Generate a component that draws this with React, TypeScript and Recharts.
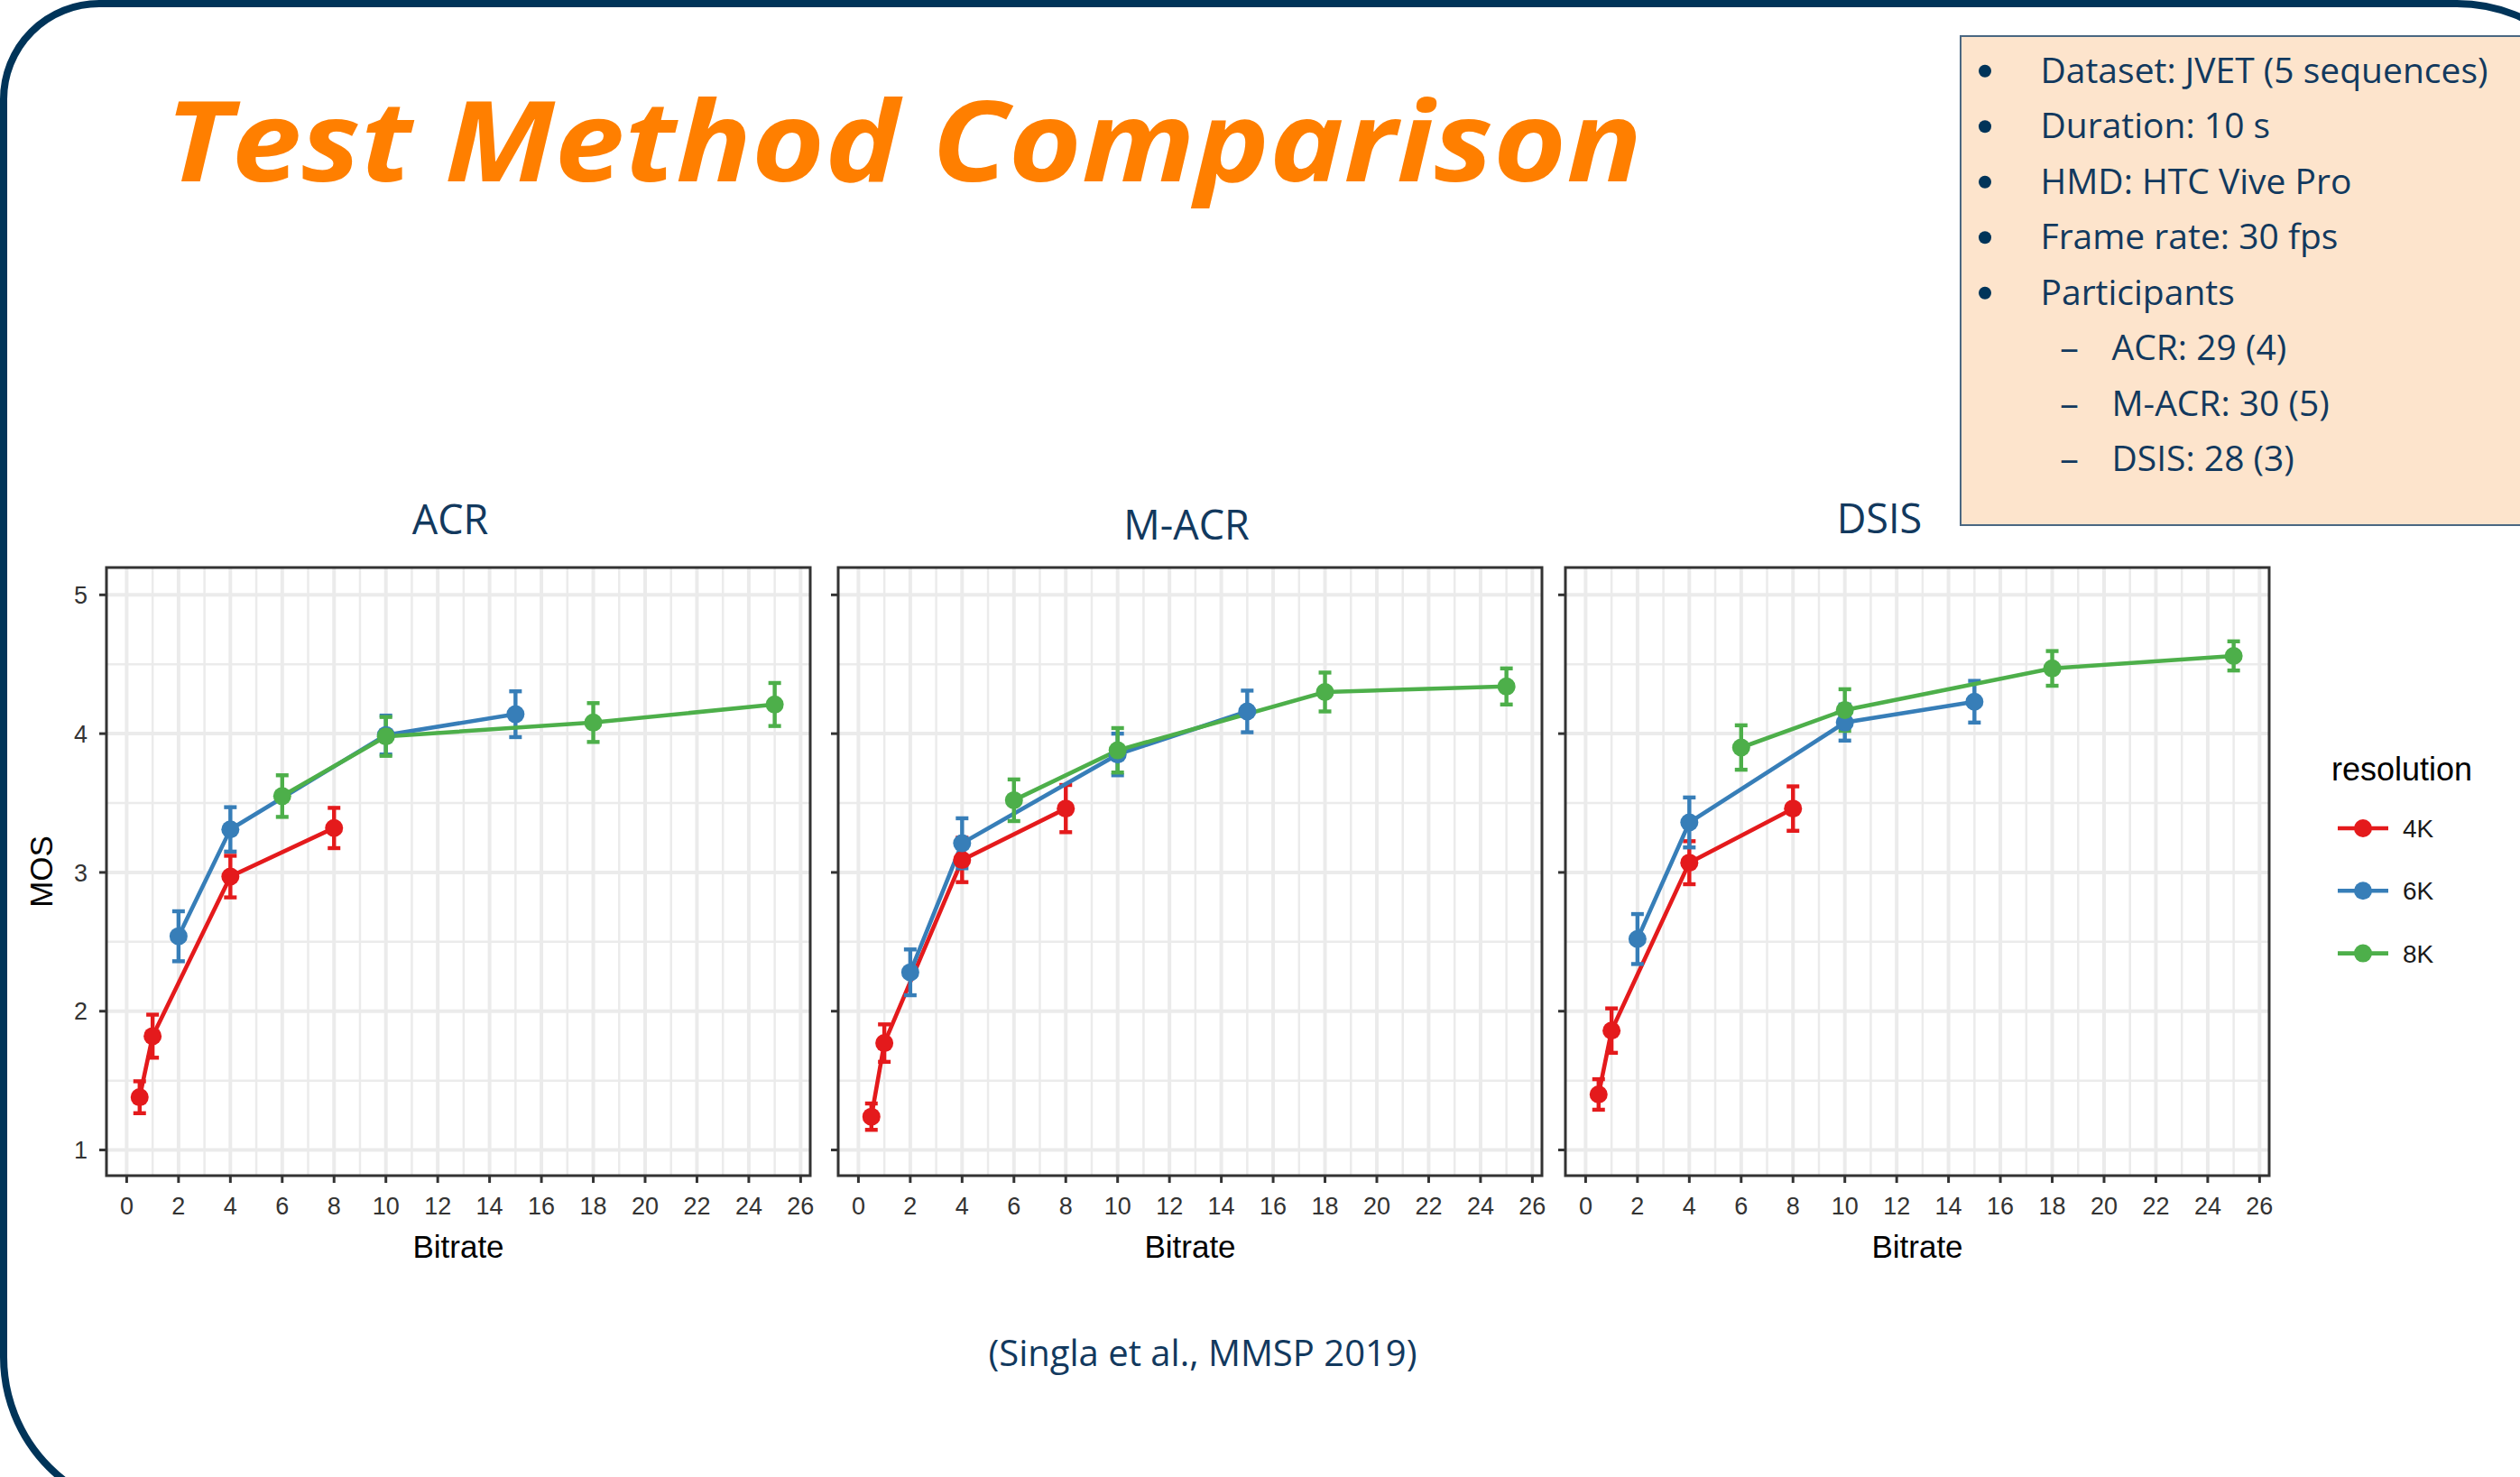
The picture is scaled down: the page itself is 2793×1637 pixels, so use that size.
import React from 'react';
import {
  LineChart,
  Line,
  XAxis,
  YAxis,
  CartesianGrid,
  ErrorBar,
  ReferenceArea,
  Legend,
} from 'recharts';

// ---------- data ----------
const bitrateTicks = [0, 2, 4, 6, 8, 10, 12, 14, 16, 18, 20, 22, 24, 26];
const bitrateMinor = [1, 3, 5, 7, 9, 11, 13, 15, 17, 19, 21, 23, 25];
const mosTicks = [1, 2, 3, 4, 5];
const mosMinor = [1.5, 2.5, 3.5, 4.5];

const resolutions = ['4K', '6K', '8K'];
const resolutionColors = ['#E41A1C', '#377EB8', '#4DAF4A'];

const bitrate4K = [0.5, 1, 4, 8];
const bitrate6K = [2, 4, 10, 15];
const bitrate8K = [6, 10, 18, 25];

const acr4K = [1.38, 1.82, 2.97, 3.32];
const acr4KErr = [0.115, 0.155, 0.15, 0.145];
const acr6K = [2.54, 3.31, 3.99, 4.14];
const acr6KErr = [0.18, 0.16, 0.14, 0.165];
const acr8K = [3.55, 3.98, 4.08, 4.21];
const acr8KErr = [0.15, 0.14, 0.14, 0.155];

const macr4K = [1.24, 1.77, 3.09, 3.46];
const macr4KErr = [0.095, 0.135, 0.16, 0.17];
const macr6K = [2.28, 3.21, 3.85, 4.16];
const macr6KErr = [0.165, 0.18, 0.15, 0.15];
const macr8K = [3.52, 3.88, 4.3, 4.34];
const macr8KErr = [0.15, 0.16, 0.14, 0.13];

const dsis4K = [1.4, 1.86, 3.07, 3.46];
const dsis4KErr = [0.11, 0.16, 0.155, 0.16];
const dsis6K = [2.52, 3.36, 4.08, 4.23];
const dsis6KErr = [0.18, 0.18, 0.13, 0.15];
const dsis8K = [3.9, 4.17, 4.47, 4.56];
const dsis8KErr = [0.16, 0.15, 0.125, 0.105];

const methods = ['ACR', 'M-ACR', 'DSIS'];

const infoLines = [
  { text: 'Dataset: JVET (5 sequences)', level: 0 },
  { text: 'Duration: 10 s', level: 0 },
  { text: 'HMD: HTC Vive Pro', level: 0 },
  { text: 'Frame rate: 30 fps', level: 0 },
  { text: 'Participants', level: 0 },
  { text: 'ACR: 29 (4)', level: 1 },
  { text: 'M-ACR: 30 (5)', level: 1 },
  { text: 'DSIS: 28 (3)', level: 1 },
];

const titleText = 'Test Method Comparison';
const citationText = '(Singla et al., MMSP 2019)';

// ---------- helpers ----------
const toPoints = (xs: number[], ys: number[], errs: number[]) =>
  xs.map((x, i) => ({ bitrate: x, mos: ys[i], err: errs[i] }));

const panelSeries = [
  [
    toPoints(bitrate4K, acr4K, acr4KErr),
    toPoints(bitrate6K, acr6K, acr6KErr),
    toPoints(bitrate8K, acr8K, acr8KErr),
  ],
  [
    toPoints(bitrate4K, macr4K, macr4KErr),
    toPoints(bitrate6K, macr6K, macr6KErr),
    toPoints(bitrate8K, macr8K, macr8KErr),
  ],
  [
    toPoints(bitrate4K, dsis4K, dsis4KErr),
    toPoints(bitrate6K, dsis6K, dsis6KErr),
    toPoints(bitrate8K, dsis8K, dsis8KErr),
  ],
];

// ---------- layout ----------
const PAGE_W = 2793;
const PAGE_H = 1637;
const PLOT_W = 780;
const PLOT_H = 674;
const PLOT_TOP = 629;
const PANEL_LEFTS = [118, 929, 1735];
const MARGIN_TOP = 5;
const MARGIN_RIGHT = 5;
const X_AXIS_H = 100;
const X_DOMAIN: [number, number] = [-0.78, 26.37];
const Y_DOMAIN: [number, number] = [0.815, 5.197];

const NAVY = '#003459';
const TEXT_BLUE = '#12395E';
const AXIS_FONT = "'Liberation Sans', Arial, sans-serif";
const SLIDE_FONT = "'Open Sans', 'Noto Sans', sans-serif";
const LINE_W = 4.6;
const DOT_R = 10;

const renderLegend = (props: any) => {
  const payload = (props && props.payload) || [];
  return (
    <svg width={240} height={260} style={{ overflow: 'visible', display: 'block' }}>
      <text x={4} y={45} fontFamily={AXIS_FONT} fontSize={36} fill="#000">
        resolution
      </text>
      {payload.map((p: any, i: number) => {
        const cy = 98 + i * 69.3;
        return (
          <g key={String(p.value)}>
            <line x1={11} x2={67} y1={cy} y2={cy} stroke={p.color} strokeWidth={LINE_W} />
            <circle cx={39} cy={cy} r={DOT_R} fill={p.color} />
            <text x={83} y={cy + 10} fontFamily={AXIS_FONT} fontSize={28} fill="#1A1A1A">
              {p.value}
            </text>
          </g>
        );
      })}
    </svg>
  );
};

function Panel({ index }: { index: number }) {
  const first = index === 0;
  const last = index === 2;
  const yAxisW = first ? 100 : 60;
  const chartW = yAxisW + PLOT_W + MARGIN_RIGHT;
  const chartH = MARGIN_TOP + PLOT_H + X_AXIS_H;
  const left = PANEL_LEFTS[index] - yAxisW;
  const top = PLOT_TOP - MARGIN_TOP;
  const series = panelSeries[index];

  return (
    <div style={{ position: 'absolute', left, top, width: chartW, height: chartH, fontFamily: AXIS_FONT }}>
      <LineChart
        width={chartW}
        height={chartH}
        margin={{ top: MARGIN_TOP, right: MARGIN_RIGHT, bottom: 0, left: 0 }}
      >
        <CartesianGrid
          stroke="#EBEBEB"
          strokeWidth={2.5}
          verticalValues={bitrateMinor}
          horizontalValues={mosMinor}
        />
        <CartesianGrid
          stroke="#EBEBEB"
          strokeWidth={4}
          verticalValues={bitrateTicks}
          horizontalValues={mosTicks}
        />
        <XAxis
          dataKey="bitrate"
          type="number"
          domain={X_DOMAIN}
          ticks={bitrateTicks}
          interval={0}
          allowDataOverflow
          height={X_AXIS_H}
          axisLine={false}
          tickSize={8}
          tickMargin={16}
          tickLine={{ stroke: '#333', strokeWidth: 3 }}
          tick={{ fill: '#333', fontSize: 27, fontFamily: AXIS_FONT }}
          label={{
            value: 'Bitrate',
            position: 'insideBottom',
            offset: 9,
            fill: '#000',
            fontSize: 35,
            fontFamily: AXIS_FONT,
          }}
        />
        <YAxis
          type="number"
          domain={Y_DOMAIN}
          ticks={mosTicks}
          interval={0}
          allowDataOverflow
          width={yAxisW}
          axisLine={false}
          tickSize={8}
          tickMargin={13}
          tickLine={{ stroke: '#333', strokeWidth: 3 }}
          tickFormatter={first ? undefined : () => ''}
          tick={{ fill: '#333', fontSize: 27, fontFamily: AXIS_FONT }}
          label={
            first
              ? {
                  value: 'MOS',
                  angle: -90,
                  position: 'insideLeft',
                  offset: 28,
                  fill: '#000',
                  fontSize: 35,
                  fontFamily: AXIS_FONT,
                  style: { textAnchor: 'middle' },
                }
              : undefined
          }
        />
        {series.map((data, i) => (
          <Line
            key={resolutions[i]}
            data={data}
            dataKey="mos"
            name={resolutions[i]}
            stroke={resolutionColors[i]}
            strokeWidth={LINE_W}
            dot={{ r: DOT_R, fill: resolutionColors[i], stroke: resolutionColors[i], strokeWidth: 0 }}
            activeDot={false}
            isAnimationActive={false}
          >
            <ErrorBar
              dataKey="err"
              direction="y"
              width={7}
              strokeWidth={4.4}
              stroke={resolutionColors[i]}
              isAnimationActive={false}
            />
          </Line>
        ))}
        <ReferenceArea
          x1={X_DOMAIN[0]}
          x2={X_DOMAIN[1]}
          y1={Y_DOMAIN[0]}
          y2={Y_DOMAIN[1]}
          fill="none"
          fillOpacity={0}
          stroke="#333"
          strokeWidth={3}
          ifOverflow="visible"
        />
        {last && (
          <Legend
            layout="vertical"
            align="center"
            verticalAlign="middle"
            content={renderLegend}
            wrapperStyle={{ left: 905, top: 196, width: 240, height: 260 }}
          />
        )}
      </LineChart>
    </div>
  );
}

const facetTitles = [
  { x: 499, y: 592 },
  { x: 1315, y: 598 },
  { x: 2083, y: 591 },
];

export default function App() {
  return (
    <div
      style={{
        position: 'absolute',
        left: 0,
        top: 0,
        width: PAGE_W,
        height: PAGE_H,
        overflow: 'hidden',
        background: '#FFFFFF',
      }}
    >
      <svg
        width={PAGE_W}
        height={PAGE_H}
        style={{ position: 'absolute', left: 0, top: 0 }}
      >
        {/* slide frame */}
        <path
          d="M 110 4 L 2723 4 A 173 173 0 0 1 2896 177 L 2896 1677 L 177 1677 A 173 173 0 0 1 4 1504 L 4 110 A 106 106 0 0 1 110 4 Z"
          fill="none"
          stroke={NAVY}
          strokeWidth={8}
        />
        {/* title */}
        <text
          x={183}
          y={201}
          fontFamily={SLIDE_FONT}
          fontWeight={700}
          fontStyle="italic"
          fontSize={124}
          fill="#FF7F00"
          textLength={1637}
          lengthAdjust="spacingAndGlyphs"
        >
          {titleText}
        </text>
        {/* info box */}
        <rect x={2173} y={40} width={700} height={542} fill="#FDE4CC" stroke="#4A6782" strokeWidth={2} />
        {infoLines.map((line, i) => {
          const baseY = 91.8 + i * 61.5;
          return (
            <g key={line.text}>
              {line.level === 0 ? (
                <circle cx={2200} cy={baseY - 13} r={7} fill={NAVY} />
              ) : (
                <text
                  x={2283}
                  y={baseY}
                  fontFamily={SLIDE_FONT}
                  fontSize={39}
                  fill={TEXT_BLUE}
                  textLength={21}
                  lengthAdjust="spacingAndGlyphs"
                >
                  –
                </text>
              )}
              <text
                x={line.level === 0 ? 2261.5 : 2340.5}
                y={baseY}
                fontFamily={SLIDE_FONT}
                fontSize={39}
                fill={TEXT_BLUE}
              >
                {line.text}
              </text>
            </g>
          );
        })}
        {/* facet titles */}
        {methods.map((m, i) => (
          <text
            key={m}
            x={facetTitles[i].x}
            y={facetTitles[i].y}
            textAnchor="middle"
            fontFamily={SLIDE_FONT}
            fontSize={45}
            fill={TEXT_BLUE}
          >
            {m}
          </text>
        ))}
        {/* citation */}
        <text
          x={1333}
          y={1514}
          textAnchor="middle"
          fontFamily={SLIDE_FONT}
          fontSize={40}
          fill={TEXT_BLUE}
        >
          {citationText}
        </text>
      </svg>
      {methods.map((m, i) => (
        <Panel key={m} index={i} />
      ))}
    </div>
  );
}
